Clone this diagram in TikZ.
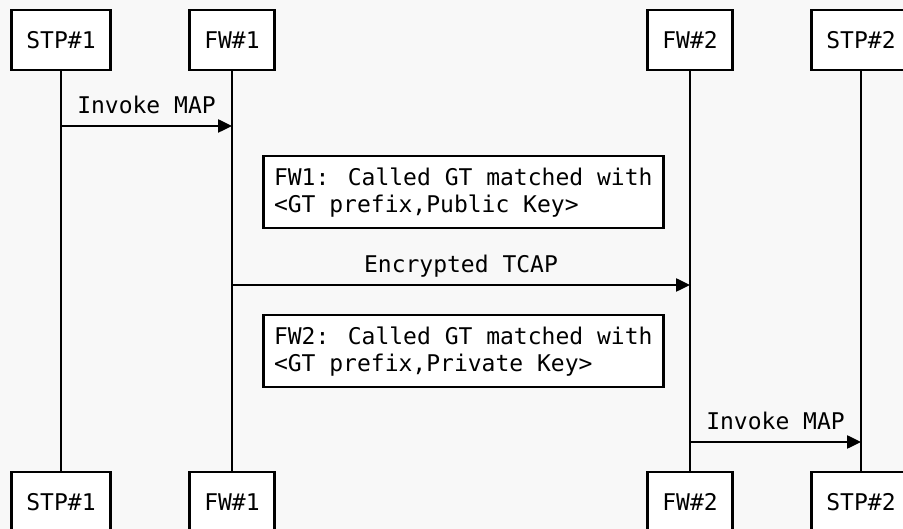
\documentclass[tikz,border=0pt]{standalone}
\usepackage{fontspec}
\setmainfont{DejaVu Sans Mono}
\usetikzlibrary{
    arrows.meta,
    positioning
}
\definecolor{paper}{HTML}{F8F8F8}

\begin{document}
\begin{tikzpicture}[x=1pt,y=-1pt,
    font=\fontsize{23}{27}\selectfont,
    actor/.style={draw,fill=white,line width=2.5pt,minimum height=60pt,inner xsep=15pt},
    note/.style={draw,fill=white,line width=2.5pt,align=left,anchor=north west,
        minimum width=400pt,minimum height=72pt,inner xsep=7pt},
    lifeline/.style={line width=2.5pt},
    msg/.style={line width=2.5pt,-{Triangle[length=14pt,width=13pt]}},
    lbl/.style={midway,anchor=base,yshift=12pt}]
    \path[use as bounding box,fill=paper] (0,0) rectangle (903,529);
    % actors, top and bottom
    \node[actor] (stp1) at (61,40) {STP\#1};
    \node[actor] (fw1) at (232,40) {FW\#1};
    \node[actor] (fw2) at (690,40) {FW\#2};
    \node[actor] (stp2) at (861,40) {STP\#2};
    \node[actor] (stp1b) at (61,502) {STP\#1};
    \node[actor] (fw1b) at (232,502) {FW\#1};
    \node[actor] (fw2b) at (690,502) {FW\#2};
    \node[actor] (stp2b) at (861,502) {STP\#2};
    \foreach \a in {stp1,fw1,fw2,stp2}
        \draw[lifeline] (\a.south) -- (\a b.north);
    % messages
    \coordinate (m1a) at (61,126);
    \coordinate (m1b) at (232,126);
    \coordinate (m2a) at (232,285);
    \coordinate (m2b) at (690,285);
    \coordinate (m3a) at (690,442);
    \coordinate (m3b) at (861,442);
    \draw[msg] (m1a) -- (m1b) node[lbl] {Invoke MAP};
    \draw[msg] (m2a) -- (m2b) node[lbl] {Encrypted TCAP};
    \draw[msg] (m3a) -- (m3b) node[lbl] {Invoke MAP};
    % notes
    \node[note] (note1) at (262,155) {FW1: Called GT matched with\\<GT prefix,Public Key>};
    \node[note] (note2) at (262,314) {FW2: Called GT matched with\\<GT prefix,Private Key>};
\end{tikzpicture}
\end{document}
